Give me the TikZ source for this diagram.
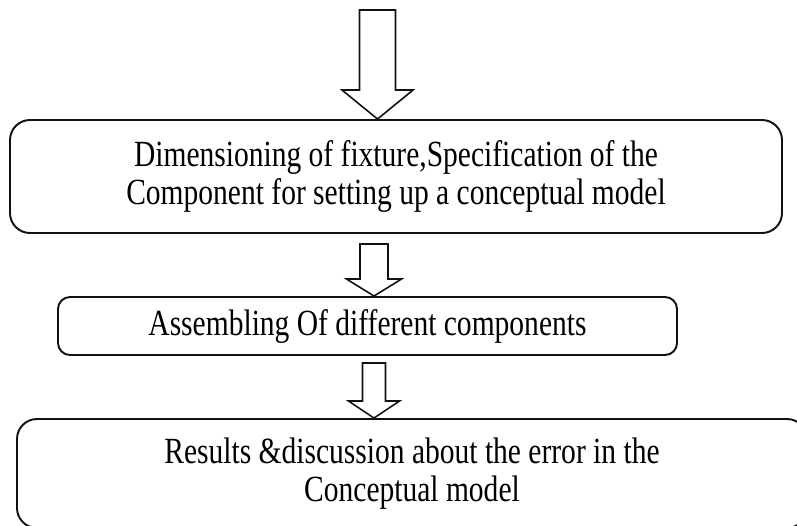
\documentclass[tikz,border=0pt]{standalone}
\usepackage{fontspec}
\setmainfont{Liberation Serif}
\newfontfamily\boxfont[FakeStretch=0.8]{Liberation Serif}
\usepackage{tikz}
\usepackage{xcolor}
\usetikzlibrary{calc}
\definecolor{ink}{HTML}{111111}
\tikzset{
  stagebox/.style={draw=ink,fill=white,line width=1.1pt,rounded corners=0.4cm,
                   align=center,inner sep=0pt,font=\boxfont\fontsize{21}{22}\selectfont},
  blockarr/.style={draw=ink,fill=white,line width=0.9pt,line join=miter},
  blockto/.style args={#1/#2/#3}{to path={let \p1=(\tikztostart),\p2=(\tikztotarget) in
      (\x2-#1,\y1) -- (\x2-#1,\y2+#3) -- (\x2-#2,\y2+#3) -- (\x2,\y2)
      -- (\x2+#2,\y2+#3) -- (\x2+#1,\y2+#3) -- (\x2+#1,\y1) -- cycle}}
}

\begin{document}
\begin{tikzpicture}
        \useasboundingbox (0,0) rectangle (15.94,10.5);
        \node[stagebox,minimum width=15.44cm,minimum height=2.26cm] (dim) at (7.92,6.97)
          {Dimensioning of fixture,Specification of the\\
           Component for setting up a conceptual model};
        \node[stagebox,rounded corners=0.24cm,minimum width=12.38cm,minimum height=1.16cm] (asm) at (7.35,3.98)
          {Assembling Of different components};
        \node[stagebox,minimum width=15.8cm,minimum height=2.18cm] (res) at (8.24,1.03)
          {Results \&discussion about the error in the\\
           Conceptual model};
        \coordinate (feed) at (7.55,10.3);
        \coordinate (col) at (7.48,0);
        \coordinate (tail2) at ($(dim.south -| col)+(0,-0.2)$);
        \coordinate (tail3) at ($(asm.south -| col)+(0,-0.14)$);
        \draw[blockarr,blockto={0.36cm/0.71cm/0.58cm}] (feed) to (dim.north -| feed);
        \draw[blockarr,blockto={0.28cm/0.55cm/0.34cm}] (tail2) to (asm.north -| col);
        \draw[blockarr,blockto={0.23cm/0.51cm/0.34cm}] (tail3) to (res.north -| col);
      \end{tikzpicture}
\end{document}
